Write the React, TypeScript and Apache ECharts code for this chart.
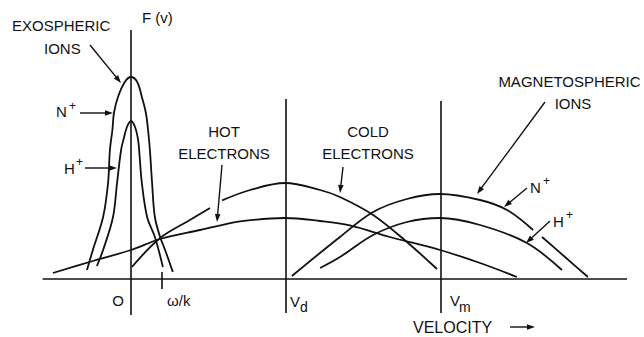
import React, { useEffect, useRef } from "react";
import * as echarts from "echarts";

// velocity v (0 at origin, Vd = 5, Vm = 10) against distribution F(v)
const exoNPlus = [
  [-1.42, 0.45], [-1.23, 1.45], [-0.9, 3.1], [-0.74, 4.8], [-0.68, 6.45], [-0.6, 7.45],
  [-0.55, 8.3], [-0.42, 9.1], [-0.2, 9.85], [0, 10.1], [0.2, 9.85], [0.35, 9.1],
  [0.48, 8.3], [0.55, 7.45], [0.61, 6.45], [0.68, 4.8], [0.77, 3.1], [0.94, 2.1],
  [1.1, 1.45], [1.35, 0.35],
];
const exoHPlus = [
  [-1.1, 0.65], [-0.9, 1.45], [-0.58, 3.1], [-0.45, 4.8], [-0.32, 6.45], [-0.23, 7.05],
  [-0.13, 7.6], [0, 7.9], [0.13, 7.6], [0.23, 6.95], [0.27, 6.3], [0.35, 4.8],
  [0.52, 3.1], [0.77, 2.1], [1.03, 0.6],
];
const hotElectrons = [
  [-2.52, 0.3], [-1.23, 0.9], [0, 1.45], [0.94, 2.0], [2.23, 2.45], [2.71, 2.62],
  [3.52, 2.88], [4.97, 3.05], [6.1, 2.9], [7.06, 2.68], [8.35, 2.1], [9.97, 1.45],
  [11.26, 0.8], [12.45, 0.1],
];
const coldElectronsLeft = [[0.03, 0.6], [0.94, 2.05], [1.9, 2.95], [2.55, 3.55]];
const coldElectronsRight = [
  [2.94, 3.93], [3.84, 4.45], [4.97, 4.8], [6.1, 4.45], [6.74, 4.1], [7.81, 3.2],
  [8.9, 1.85], [9.87, 0.5],
];
const magNPlusLeft = [
  [5.19, 0.15], [6.74, 2.1], [7.81, 3.35], [8.9, 4.0], [9.97, 4.25], [11.26, 3.95],
  [12.13, 3.45], [12.97, 2.45],
];
const magNPlusRight = [[13.26, 2.1], [14.0, 1.1], [14.74, 0.1]];
const magHPlus = [
  [6.1, 0.55], [6.74, 1.1], [7.81, 2.2], [8.9, 2.85], [9.97, 3.05], [11.26, 2.7],
  [12.77, 1.8], [13.9, 0.45],
];

// axes and reference lines
const velocityAxis = [[-2.85, 0], [16, 0]];
const fAxis = [[0, 12.45], [0, -1.8]];
const vdLine = [[5, 9.0], [5, -1.7]];
const vmLine = [[10, 8.9], [10, -1.7]];
const omegaTick = [[1.0, 0.35], [1.0, -0.5]];

const FONT = '"Liberation Sans", Arial, sans-serif';
const INK = "#111";

export default function App() {
  const ref = useRef<HTMLDivElement>(null);
  useEffect(() => {
    document.body.style.margin = "0";
    const chart = echarts.init(ref.current!, null, { renderer: "svg" });
    const curve = (data: number[][]) => ({
      type: "line",
      data,
      smooth: 0.35,
      symbol: "none",
      silent: true,
      lineStyle: { color: INK, width: 1.8 },
    });
    const straight = (data: number[][]) => ({
      type: "line",
      data,
      smooth: false,
      symbol: "none",
      silent: true,
      lineStyle: { color: INK, width: 1.6 },
    });
    chart.setOption({
      animation: false,
      grid: { left: 7, right: 17, top: 19, bottom: 18 },
      xAxis: { type: "value", min: -4, max: 16, show: false },
      yAxis: { type: "value", min: -2, max: 13, show: false },
      series: [
        straight(velocityAxis),
        straight(fAxis),
        straight(vdLine),
        straight(vmLine),
        straight(omegaTick),
        curve(exoNPlus),
        curve(exoHPlus),
        curve(hotElectrons),
        curve(coldElectronsLeft),
        curve(coldElectronsRight),
        curve(magNPlusLeft),
        curve(magNPlusRight),
        curve(magHPlus),
      ],
    });

    const P = (v: number, f: number) =>
      chart.convertToPixel({ gridIndex: 0 }, [v, f]) as number[];

    const text = (
      s: string,
      x: number,
      y: number,
      size = 15,
      align: string = "left"
    ) => ({
      type: "text",
      x,
      y,
      z: 10,
      silent: true,
      style: {
        text: s,
        font: `${size}px ${FONT}`,
        fill: INK,
        align,
        verticalAlign: "middle",
        textAlign: align,
        textVerticalAlign: "middle",
      },
    });
    const arrow = (x1: number, y1: number, x2: number, y2: number) => {
      const dx = x2 - x1;
      const dy = y2 - y1;
      const len = Math.sqrt(dx * dx + dy * dy);
      const ux = dx / len;
      const uy = dy / len;
      const L = 8;
      const W = 2.8;
      const bx = x2 - ux * L;
      const by = y2 - uy * L;
      return {
        type: "group",
        z: 10,
        silent: true,
        children: [
          {
            type: "line",
            shape: { x1, y1, x2: bx + ux * 2, y2: by + uy * 2 },
            style: { stroke: INK, lineWidth: 1.4 },
          },
          {
            type: "polygon",
            shape: {
              points: [
                [x2, y2],
                [bx - uy * W, by + ux * W],
                [bx + uy * W, by - ux * W],
              ],
            },
            style: { fill: INK },
          },
        ],
      };
    };

    const o = P(0, 0);
    const w = P(1.0, 0);
    const d = P(5, 0);
    const m = P(10, 0);

    chart.setOption({
      graphic: [
        text("F (v)", 142, 17.5),
        text("EXOSPHERIC", 12, 25),
        text("IONS", 44, 48),
        arrow(90, 45, 121, 83),
        text("N", 56, 111),
        text("+", 69, 106, 12),
        arrow(80, 113, 113, 113),
        text("H", 64, 168),
        text("+", 76, 162, 12),
        arrow(85, 168, 117, 168),
        text("HOT", 224, 131.5, 15, "center"),
        text("ELECTRONS", 224, 153.5, 15, "center"),
        arrow(222, 165, 217, 222),
        text("COLD", 368, 131.5, 15, "center"),
        text("ELECTRONS", 368, 153.5, 15, "center"),
        arrow(343, 167, 340, 193),
        text("MAGNETOSPHERIC", 569.5, 81.5, 15, "center"),
        text("IONS", 573, 103.5, 15, "center"),
        arrow(545, 102, 477, 194),
        text("N", 530, 187),
        text("+", 543, 181, 12),
        arrow(527, 188, 504, 207),
        text("H", 553, 221),
        text("+", 566, 215, 12),
        arrow(550, 221, 526, 243),
        text("O", o[0] - 7, 300, 15, "right"),
        text("ω/k", w[0] + 5, 300),
        text("V", d[0] + 4, 301),
        text("d", d[0] + 14, 307, 14),
        text("V", m[0] + 9, 300),
        text("m", m[0] + 18, 307, 14),
        text("VELOCITY", 413, 327, 16),
        arrow(510, 327, 535, 327),
      ],
    });
    return () => chart.dispose();
  }, []);
  return (
    <div
      ref={ref}
      style={{ position: "fixed", left: 0, top: 0, width: 644, height: 337, background: "#fff" }}
    />
  );
}
